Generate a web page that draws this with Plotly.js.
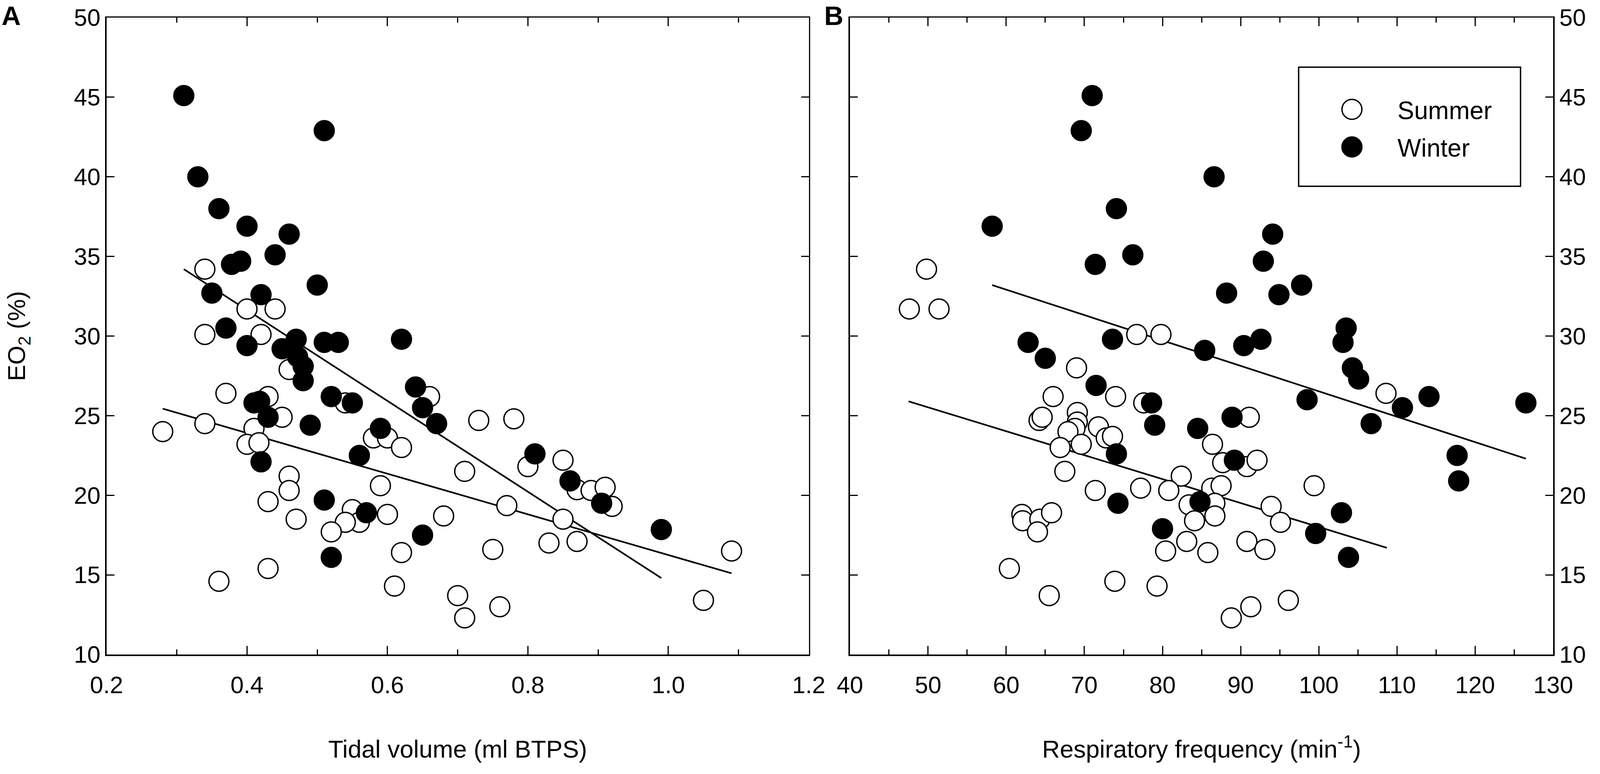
<!DOCTYPE html>
<html><head><meta charset="utf-8">
<script src="https://cdn.plot.ly/plotly-3.0.1.min.js"></script>
<style>html,body{margin:0;padding:0;background:#fff;overflow:hidden}#chart{display:block}</style>
</head><body><div id="chart"></div>
<script>
// ---- data ----
const summerA_x = [0.34,0.40,0.44,0.34,0.42,0.46,0.37,0.43,0.45,0.41,0.40,0.417,0.34,0.28,0.54,0.58,0.60,0.62,0.46,0.46,0.43,0.47,0.55,0.56,0.54,0.52,0.59,0.60,0.62,0.61,0.43,0.36,0.66,0.73,0.78,0.71,0.80,0.85,0.87,0.89,0.91,0.92,0.77,0.85,0.68,0.75,0.83,0.87,1.09,0.70,0.71,0.76,1.05];
const summerA_y = [34.2,31.7,31.7,30.1,30.1,27.9,26.4,26.2,24.9,24.2,23.2,23.3,24.5,24.0,25.8,23.6,23.6,23.0,21.2,20.3,19.6,18.5,19.1,18.3,18.3,17.7,20.6,18.8,16.4,14.3,15.4,14.6,26.2,24.7,24.8,21.5,21.8,22.2,20.35,20.3,20.5,19.3,19.35,18.5,18.7,16.6,17.0,17.1,16.5,13.7,12.3,13.0,13.4];
const winterA_x = [0.31,0.51,0.33,0.36,0.40,0.46,0.44,0.378,0.391,0.50,0.35,0.42,0.37,0.40,0.47,0.45,0.51,0.53,0.62,0.472,0.48,0.48,0.41,0.418,0.43,0.42,0.49,0.52,0.55,0.59,0.56,0.51,0.57,0.52,0.64,0.65,0.67,0.81,0.86,0.905,0.65,0.99];
const winterA_y = [45.1,42.9,40.0,38.0,36.9,36.4,35.1,34.5,34.7,33.2,32.7,32.6,30.5,29.4,29.8,29.2,29.6,29.6,29.8,28.7,28.1,27.2,25.8,25.9,24.9,22.1,24.4,26.2,25.8,24.2,22.5,19.7,18.9,16.1,26.8,25.5,24.5,22.6,20.9,19.5,17.5,17.85];

const summerB_x = [49.8,47.6,51.4,76.7,79.8,69.0,66.0,74.0,77.6,64.2,64.6,69.1,69.1,68.8,67.9,66.9,69.6,71.8,72.8,73.6,67.5,71.4,77.2,62.0,62.1,64.3,65.8,64.0,60.4,65.5,73.9,108.6,91.1,86.4,87.7,90.8,92.1,82.4,80.8,86.3,87.5,83.4,86.7,86.7,84.1,93.9,95.1,99.4,80.4,83.1,85.8,90.8,93.1,79.3,88.8,91.3,96.1];
const summerB_y = [34.2,31.7,31.7,30.1,30.1,28.0,26.2,26.2,25.8,24.7,24.9,25.2,24.6,24.2,24.0,23.0,23.2,24.3,23.6,23.7,21.5,20.3,20.45,18.8,18.4,18.5,18.9,17.7,15.4,13.7,14.6,26.4,24.9,23.2,22.05,21.8,22.2,21.2,20.3,20.45,20.6,19.4,19.5,18.7,18.4,19.3,18.3,20.6,16.5,17.1,16.4,17.1,16.6,14.3,12.3,13.0,13.4];
const winterB_x = [71.0,69.6,74.1,58.2,76.2,71.4,73.6,62.8,65.0,71.5,78.6,79.0,74.1,74.3,86.6,94.1,92.9,88.2,94.9,97.8,85.4,90.4,92.6,103.5,103.1,104.3,105.1,98.5,110.7,114.1,126.5,106.7,117.7,117.9,88.9,84.5,89.2,84.8,102.9,99.6,103.8,80.0];
const winterB_y = [45.1,42.9,38.0,36.9,35.1,34.5,29.8,29.6,28.6,26.9,25.8,24.4,22.6,19.5,40.0,36.4,34.7,32.7,32.6,33.2,29.1,29.4,29.8,30.5,29.6,28.0,27.3,26.0,25.5,26.2,25.8,24.5,22.5,20.9,24.9,24.2,22.2,19.6,18.9,17.6,16.1,17.9];

// regression lines (end points)
const fitSummerA_x = [0.28, 1.09], fitSummerA_y = [25.44, 15.1];
const fitWinterA_x = [0.31, 0.99], fitWinterA_y = [34.2, 14.8];
const fitSummerB_x = [47.5, 108.7], fitSummerB_y = [25.9, 16.7];
const fitWinterB_x = [58.2, 126.5], fitWinterB_y = [33.2, 22.3];

// ticks
const xTicksA = [0.2,0.4,0.6,0.8,1.0,1.2];
const xTickTextA = ['0.2','0.4','0.6','0.8','1.0','1.2'];
const xTicksB = [40,50,60,70,80,90,100,110,120,130];
const xTickTextB = ['40','50','60','70','80','90','100','110','120','130'];
const yTicks = [10,15,20,25,30,35,40,45,50];
const yTickText = ['10','15','20','25','30','35','40','45','50'];

const seriesNames = ['Summer','Winter'];
const xTitleA = 'Tidal volume (ml BTPS)';
const xTitleB = 'Respiratory frequency (min<sup>-1</sup>)';
const yTitle = 'EO<sub>2</sub> (%)';
const panelLabels = ['A','B'];

// ---- styling (designed on a 4550 x 1982 grid, fitted to the real viewport) ----
const W0 = 4550, H0 = 1982;
const VW = (window.innerWidth && window.innerWidth > 100) ? window.innerWidth : W0;
const VH = (window.innerHeight && window.innerHeight > 100) ? window.innerHeight : H0;
const SX = VW / W0, SY = VH / H0;
const hx = v => v * SX;   // horizontal pixel sizes
const vy = v => v * SY;   // vertical pixel sizes / fonts
const FONT = 'Arial, "Liberation Sans", sans-serif';
const MS = vy(51), MLW = vy(3.5);
const openMarker = {size: MS, color: '#ffffff', line: {color: '#000000', width: MLW}};
const fillMarker = {size: MS, color: '#000000', line: {color: '#000000', width: MLW}};
const lineStyle = {color: '#000000', width: vy(4.2)};

const traces = [
  {x: fitSummerA_x, y: fitSummerA_y, mode: 'lines', line: lineStyle, xaxis: 'x', yaxis: 'y', showlegend: false, hoverinfo: 'skip'},
  {x: fitWinterA_x, y: fitWinterA_y, mode: 'lines', line: lineStyle, xaxis: 'x', yaxis: 'y', showlegend: false, hoverinfo: 'skip'},
  {x: summerA_x, y: summerA_y, mode: 'markers', marker: openMarker, name: seriesNames[0], legendgroup: 's', showlegend: true, xaxis: 'x', yaxis: 'y'},
  {x: winterA_x, y: winterA_y, mode: 'markers', marker: fillMarker, name: seriesNames[1], legendgroup: 'w', showlegend: true, xaxis: 'x', yaxis: 'y'},
  {x: fitSummerB_x, y: fitSummerB_y, mode: 'lines', line: lineStyle, xaxis: 'x2', yaxis: 'y2', showlegend: false, hoverinfo: 'skip'},
  {x: fitWinterB_x, y: fitWinterB_y, mode: 'lines', line: lineStyle, xaxis: 'x2', yaxis: 'y2', showlegend: false, hoverinfo: 'skip'},
  {x: summerB_x, y: summerB_y, mode: 'markers', marker: openMarker, name: seriesNames[0], legendgroup: 's', showlegend: false, xaxis: 'x2', yaxis: 'y2'},
  {x: winterB_x, y: winterB_y, mode: 'markers', marker: fillMarker, name: seriesNames[1], legendgroup: 'w', showlegend: false, xaxis: 'x2', yaxis: 'y2'}
];

const yDom = [1 - 1676/H0, 1 - 45/H0];
const tickFont = {family: FONT, size: vy(61), color: '#000'};
const titleFont = {family: FONT, size: vy(63), color: '#000'};
const common = {
  showline: true, linecolor: '#000', linewidth: vy(3.5), mirror: 'ticks',
  ticks: 'inside', tickwidth: vy(3), tickcolor: '#000',
  showgrid: false, zeroline: false, tickfont: tickFont, fixedrange: true
};
const xCommon = Object.assign({}, common, {ticklen: vy(22), ticklabelstandoff: vy(22)});
const yCommon = Object.assign({}, common, {ticklen: hx(22), ticklabelstandoff: hx(42)});

const layout = {
  width: VW, height: VH,
  margin: {l: 0, r: 0, t: 0, b: 0, pad: 0},
  paper_bgcolor: '#fff', plot_bgcolor: '#fff',
  font: {family: FONT, color: '#000'},
  xaxis: Object.assign({}, xCommon, {
    domain: [303/W0, 2300/W0], range: [0.2, 1.2], anchor: 'y',
    tickmode: 'array', tickvals: xTicksA, ticktext: xTickTextA,
    minor: {dtick: 0.1, tick0: 0.2, ticks: 'inside', ticklen: vy(13), tickwidth: vy(3), tickcolor: '#000', showgrid: false},
    title: {text: xTitleA, font: titleFont, standoff: vy(110)}
  }),
  yaxis: Object.assign({}, yCommon, {
    domain: yDom, range: [10, 50], anchor: 'x',
    tickmode: 'array', tickvals: yTicks, ticktext: yTickText,
    title: {text: yTitle, font: titleFont, standoff: hx(116)}
  }),
  xaxis2: Object.assign({}, xCommon, {
    domain: [2417/W0, 4417/W0], range: [40, 130], anchor: 'y2',
    tickmode: 'array', tickvals: xTicksB, ticktext: xTickTextB,
    minor: {dtick: 5, tick0: 40, ticks: 'inside', ticklen: vy(13), tickwidth: vy(3), tickcolor: '#000', showgrid: false},
    title: {text: xTitleB, font: titleFont, standoff: vy(110)}
  }),
  yaxis2: Object.assign({}, yCommon, {
    domain: yDom, range: [10, 50], anchor: 'x2', side: 'right',
    tickmode: 'array', tickvals: yTicks, ticktext: yTickText
  }),
  showlegend: true,
  legend: {
    x: 3715/W0, y: 1 - 232/H0, xanchor: 'left', yanchor: 'top',
    bgcolor: 'rgba(0,0,0,0)', borderwidth: 0,
    font: {family: FONT, size: vy(64), color: '#000'},
    itemwidth: Math.max(30, hx(248)), itemclick: false, itemdoubleclick: false
  },
  shapes: [
    {type: 'rect', xref: 'paper', yref: 'paper', x0: 3693/W0, x1: 4324/W0, y0: 1 - 477/H0, y1: 1 - 172/H0,
     line: {color: '#000', width: vy(3.5)}, fillcolor: 'rgba(0,0,0,0)', layer: 'above'}
  ],
  annotations: [
    {text: '<b>' + panelLabels[0] + '</b>', xref: 'paper', yref: 'paper', x: 32/W0, y: 1, xanchor: 'center', yanchor: 'top', showarrow: false, font: {family: FONT, size: vy(68), color: '#000'}},
    {text: '<b>' + panelLabels[1] + '</b>', xref: 'paper', yref: 'paper', x: 2371/W0, y: 1, xanchor: 'center', yanchor: 'top', showarrow: false, font: {family: FONT, size: vy(68), color: '#000'}}
  ]
};

Plotly.newPlot('chart', traces, layout, {displayModeBar: false, staticPlot: true}).then(function (gd) {
  // enlarge legend symbols to the size of the plotted markers (Plotly caps them at 16px)
  const r = MS / 2;
  const d = 'M' + r + ',0A' + r + ',' + r + ' 0 1,1 0,-' + r + 'A' + r + ',' + r + ' 0 0,1 ' + r + ',0Z';
  gd.querySelectorAll('.legend .legendpoints path.scatterpts').forEach(function (p) {
    p.setAttribute('d', d);
    p.style.strokeWidth = MLW + 'px';
  });
});
</script></body></html>
